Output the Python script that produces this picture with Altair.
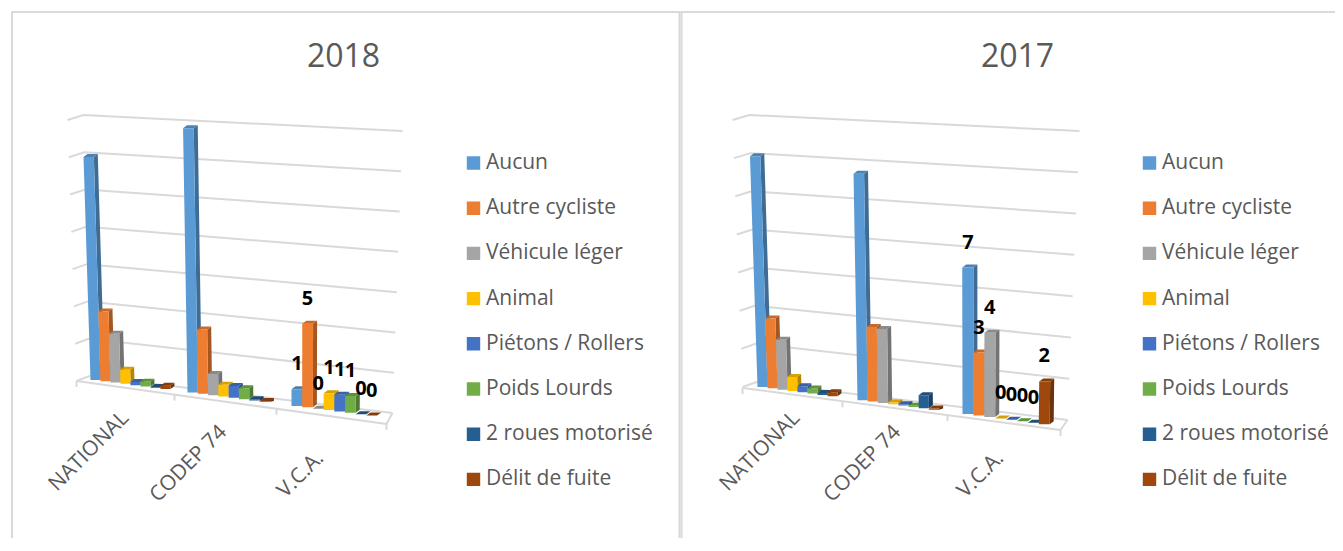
import altair as alt
import pandas as pd

SERIES = ["Aucun", "Autre cycliste", "Véhicule léger", "Animal", "Piétons / Rollers",
          "Poids Lourds", "2 roues motorisé", "Délit de fuite"]
COLORS = ["#5B9BD5", "#ED7D31", "#A5A5A5", "#FFC000", "#4472C4", "#70AD47", "#255E91", "#9E480E"]
CATEGORIES = ["NATIONAL", "CODEP 74", "V.C.A."]

NATIONAL_2018 = [14.1, 4.4, 3.07, 0.89, 0.2, 0.3, 0.05, 0.2]
CODEP_2018 = [16.3, 3.96, 1.3, 0.72, 0.72, 0.67, 0.07, 0.05]
VCA_2018 = [1, 5, 0, 1, 1, 1, 0, 0]

NATIONAL_2017 = [11.6, 3.5, 2.5, 0.7, 0.3, 0.25, 0.1, 0.2]
CODEP_2017 = [11.1, 3.64, 3.6, 0.08, 0.06, 0.06, 0.63, 0.05]
VCA_2017 = [7, 3, 4, 0, 0, 0, 0, 2]

PAGE_X, PAGE_Y = 11.5, 8   # where the chart's origin lands on the page
W, H = 1327, 530           # whole chart
GREY = "#d9d9d9"
TEXT = "#595959"
FONT = "Open Sans"

P1 = dict(
    title="2018", title_x=344, unit=2.36,
    data=[NATIONAL_2018, CODEP_2018, VCA_2018],
    gx=[91, 188, 292], step=[10.0, 10.3, 10.7], base0=(91, 378), slope=0.129, vx=300,
    sp=(87, 37.3, 0.00965),
    L=((77, 379), (68, 118)), C=((90, 374), (84, 113)), R=((393, 411), (403, 129)),
    ticks=[77, 175, 277, 387], front=((77, 379), (387, 422)),
    lab=[(126, 413), (224, 427), (321, 453)],
    leg_x=460,
)
P2 = dict(
    title="2017", title_x=1018, unit=1.92,
    data=[NATIONAL_2017, CODEP_2017, VCA_2017],
    gx=[758, 858, 963], step=[10.0, 10.2, 10.9], base0=(758, 385), slope=0.132, vx=975,
    sp=(750, 38.1, 0.00985),
    L=((743, 385), (733, 118)), C=((757, 380), (750, 113)), R=((1068, 418), (1080, 129)),
    ticks=[743, 843, 948, 1061], front=((743, 386), (1061, 428)),
    lab=[(797, 413), (898, 427), (1001, 453)],
    leg_x=1136,
)
LEAN = 1.5e-4
DX, DY = 4.0, 3.0
LABEL_GAP = 25

X = alt.Scale(domain=[0, W], range=[0, W])
Y = alt.Scale(domain=[0, H], range=[0, H])
xq = lambda f: alt.X(f + ":Q", scale=X, axis=None)
yq = lambda f: alt.Y(f + ":Q", scale=Y, axis=None)


def shade(hex_color, f):
    r, g, b = (int(hex_color[i:i + 2], 16) for i in (1, 3, 5))
    return "#%02x%02x%02x" % (int(r * f), int(g * f), int(b * f))


def lerp(a, b, t):
    return a + (b - a) * t


def geometry(p, tag):
    front, side, top, labels, lines = [], [], [], [], []
    for g, cat in enumerate(CATEGORIES):
        for s, name in enumerate(SERIES):
            v = p["data"][g][s]
            xl = p["gx"][g] + s * p["step"][g]
            xr = xl + p["step"][g]
            base = p["base0"][1] + (xl - p["base0"][0]) * p["slope"]
            spacing = p["sp"][1] + (xl - p["sp"][0]) * p["sp"][2]
            h = v / p["unit"] * spacing
            ytop = base - h
            xlt = xl + (xl - p["vx"]) * h * LEAN
            xrt = xr + (xr - p["vx"]) * h * LEAN
            bar = f"{tag}-{cat}-{s}"
            for yy, a, b in ((ytop, xlt, xrt), (base, xl, xr)):
                front.append(dict(bar=bar, series=name, value=v, x=a - PAGE_X, x2=b - PAGE_X, y=yy - PAGE_Y))
            c_top = shade(COLORS[s], 0.84)
            c_side = shade(COLORS[s], 0.7)
            for yy, a, b in ((ytop - DY, xlt + DX, xrt + DX), (ytop, xlt, xrt)):
                top.append(dict(bar=bar, c=c_top, x=a - PAGE_X, x2=b - PAGE_X, y=yy - PAGE_Y))
            if h > 0.5:
                for yy, a, b in ((ytop - DY, xrt + DX, xrt + DX), (ytop, xrt, xrt + DX),
                                 (base - DY, xr, xr + DX), (base, xr, xr)):
                    side.append(dict(bar=bar, c=c_side, x=a - PAGE_X, x2=b - PAGE_X, y=yy - PAGE_Y))
            if cat == "V.C.A.":
                labels.append(dict(x=(xl + xr) / 2 - PAGE_X, y=ytop - LABEL_GAP - PAGE_Y, t=str(v)))
    for i in range(8):
        t = i / 7
        for o, (pa, pb) in enumerate((p["L"], p["C"], p["R"])):
            lines.append(dict(id=f"{tag}g{i}", o=o, x=lerp(pa[0], pb[0], t) - PAGE_X, y=lerp(pa[1], pb[1], t) - PAGE_Y))
    (fx0, fy0), (fx1, fy1) = p["front"]
    rb = p["R"][0]
    for name, a, b in ((f"{tag}front", (fx0, fy0), (fx1, fy1)), (f"{tag}edge", rb, (fx1, fy1))):
        lines += [dict(id=name, o=0, x=a[0] - PAGE_X, y=a[1] - PAGE_Y), dict(id=name, o=1, x=b[0] - PAGE_X, y=b[1] - PAGE_Y)]
    for k, tx in enumerate(p["ticks"]):
        ty = lerp(fy0, fy1, (tx - fx0) / (fx1 - fx0))
        lines += [dict(id=f"{tag}t{k}", o=0, x=tx - PAGE_X, y=ty - PAGE_Y), dict(id=f"{tag}t{k}", o=1, x=tx - PAGE_X, y=ty + 6 - PAGE_Y)]
    return front, side, top, labels, lines


f1, s1, t1, v1, l1 = geometry(P1, "a")
f2, s2, t2, v2, l2 = geometry(P2, "b")


def legend(p):
    return alt.Legend(title=None, orient="none", legendX=p["leg_x"] - PAGE_X + 3.5, legendY=142,
                      symbolType="square", symbolSize=180, symbolStrokeWidth=0, symbolOpacity=1,
                      labelFont=FONT, labelFontSize=21, labelColor=TEXT, labelLimit=220,
                      labelOffset=2, clipHeight=22, rowPadding=23.2)


SCALE = alt.Scale(domain=SERIES, range=COLORS)
area = lambda rows: alt.Chart(pd.DataFrame(rows)).mark_area(orient="horizontal")

# panel frames: left and top edges of each panel, right edge of the first
frame_rows = []
for name, pts in (("p1", [(12.5, H + PAGE_Y), (12.5, 10), (680, 10), (680, H + PAGE_Y)]),
                  ("p2", [(682, H + PAGE_Y), (682, 10), (W + PAGE_X, 10)])):
    frame_rows += [dict(id=name, o=i, x=a - PAGE_X, y=b - PAGE_Y) for i, (a, b) in enumerate(pts)]
frame = alt.Chart(pd.DataFrame(frame_rows)).mark_line(color=GREY, strokeWidth=2).encode(
    x=xq("x"), y=yq("y"), detail="id:N", order="o:Q")

grid = alt.Chart(pd.DataFrame(l1 + l2)).mark_line(color=GREY, strokeWidth=2).encode(
    x=xq("x"), y=yq("y"), detail="id:N", order="o:Q")

side_l = area(s1 + s2).encode(y=yq("y"), x=xq("x"), x2="x2:Q", detail="bar:N",
                              fill=alt.Fill("c:N", scale=None))
top_l = area(t1 + t2).encode(y=yq("y"), x=xq("x"), x2="x2:Q", detail="bar:N",
                             fill=alt.Fill("c:N", scale=None))
front1 = area(f1).encode(y=yq("y"), x=xq("x"), x2="x2:Q", detail="bar:N",
                         color=alt.Color("series:N", scale=SCALE, legend=legend(P1)))
front2 = area(f2).encode(y=yq("y"), x=xq("x"), x2="x2:Q", detail="bar:N",
                         fill=alt.Fill("series:N", scale=SCALE, legend=legend(P2)))

val = alt.Chart(pd.DataFrame(v1 + v2)).mark_text(
    font=FONT, fontSize=20, fontWeight="bold", color="#000000", baseline="middle", align="center"
).encode(x=xq("x"), y=yq("y"), text="t:N")

cat_rows = [dict(x=a - PAGE_X, y=b - PAGE_Y, t=c)
            for p in (P1, P2) for (a, b), c in zip(p["lab"], CATEGORIES)]
cat_l = alt.Chart(pd.DataFrame(cat_rows)).mark_text(
    font=FONT, fontSize=21, color=TEXT, align="right", baseline="middle", angle=315
).encode(x=xq("x"), y=yq("y"), text="t:N")

ttl_rows = [dict(x=p["title_x"] - PAGE_X, y=55 - PAGE_Y, t=p["title"]) for p in (P1, P2)]
ttl = alt.Chart(pd.DataFrame(ttl_rows)).mark_text(
    font=FONT, fontSize=32, color=TEXT, align="center", baseline="middle"
).encode(x=xq("x"), y=yq("y"), text="t:N")

chart = (
    alt.layer(frame, grid, side_l, top_l, front1, front2, val, cat_l, ttl)
    .resolve_scale(color="independent", fill="independent")
    .properties(width=W, height=H, padding=0,
                autosize=alt.AutoSizeParams(type="fit", contains="padding"))
    .configure_view(stroke=None)
)
chart.save("out.html", embed_options={"renderer": "svg", "actions": False})
